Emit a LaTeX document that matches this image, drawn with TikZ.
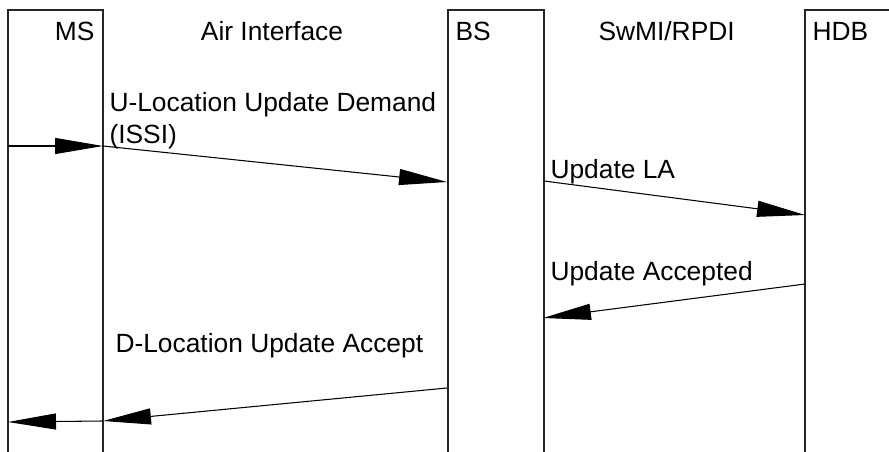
\documentclass[tikz,border=0pt]{standalone}
\usepackage{fontspec}
\setmainfont{Liberation Sans}
\usetikzlibrary{arrows.meta}

\begin{document}
\begin{tikzpicture}[x=0.02cm, y=-0.02cm, line width=0.6pt, lifeline/.style={draw=black!85}, msg/.style={-{Triangle[length=0.96cm, width=0.32cm]}}, lbl/.style={font=\fontsize{15}{17}\selectfont, inner sep=0pt}]
			\useasboundingbox (0,0) rectangle (889,452);
			% columns
			\draw[lifeline] (8,452) -- (8,10) -- (103,10) -- (103,452);
			\draw[lifeline] (448,452) -- (448,10) -- (544,10) -- (544,452);
			\draw[lifeline] (805,452) -- (805,10) -- (889,10);
			\node[lbl, anchor=base east] (ms) at (95,41) {MS};
			\node[lbl, anchor=base] (air) at (272,41) {Air Interface};
			\node[lbl, anchor=base west] (bs) at (455,41) {BS};
			\node[lbl, anchor=base west] (swmi) at (598,41) {SwMI/RPDI};
			\node[lbl, anchor=base west] (hdb) at (812,41) {HDB};
			% message ends
			\coordinate (msin) at (8,146);
			\coordinate (msup) at (103,146);
			\coordinate (bsup) at (447,182);
			\coordinate (bsla) at (544,181);
			\coordinate (hdbla) at (805,215);
			\coordinate (hdbacc) at (805,284);
			\coordinate (bsacc) at (543,318);
			\coordinate (bsdn) at (447,388);
			\coordinate (msdn) at (103,421);
			\coordinate (msout) at (8,422);
			% messages
			\draw[msg] (msin) -- (msup);
			\draw[msg] (msup) -- (bsup);
			\draw[msg] (bsla) -- (hdbla);
			\draw[msg] (hdbacc) -- (bsacc);
			\draw[msg] (bsdn) -- (msdn);
			\draw[msg] (msdn) -- (msout);
			\node[lbl, anchor=base west] (demand) at (109,112) {U-Location Update Demand};
			\node[lbl, anchor=base west] (issi) at (109,144) {(ISSI)};
			\node[lbl, anchor=base west] (updla) at (550,179) {Update LA};
			\node[lbl, anchor=base west] (updacc) at (550,281) {Update Accepted};
			\node[lbl, anchor=base west] (dacc) at (115,353) {D-Location Update Accept};
			\end{tikzpicture}
\end{document}
